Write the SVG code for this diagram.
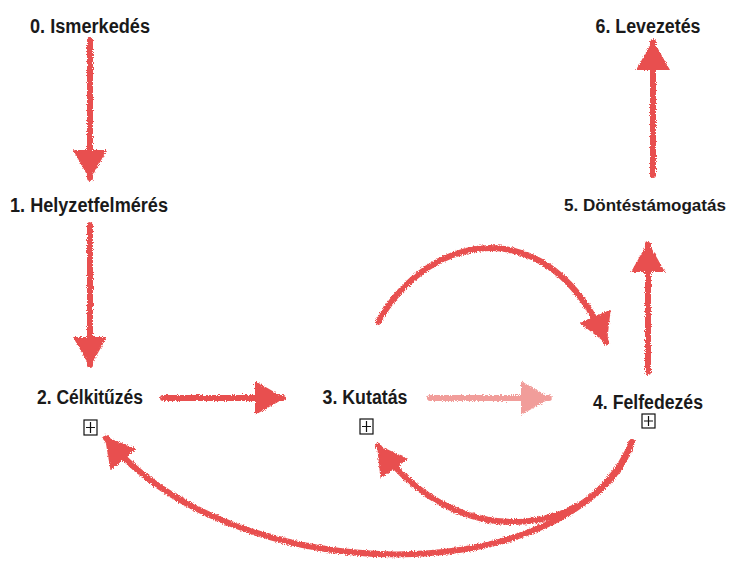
<svg xmlns="http://www.w3.org/2000/svg" width="735" height="561" viewBox="0 0 735 561">
<style>
.lbl{font-family:"Liberation Sans",Arial,sans-serif;font-weight:bold;font-size:20px;fill:#1a1a1a;text-anchor:middle}
.box{fill:#fff;stroke:#111;stroke-width:1.2}
.plus{stroke:#111;stroke-width:1.2}
.c{fill:none;stroke:#e8504f;stroke-width:6;stroke-linecap:round}
.c.light{stroke:#f19d9a}
</style>
<defs>
<filter id="rough" x="-10%" y="-10%" width="120%" height="120%">
<feTurbulence type="fractalNoise" baseFrequency="0.9" numOctaves="2" seed="3" result="n"/>
<feDisplacementMap in="SourceGraphic" in2="n" scale="4" xChannelSelector="R" yChannelSelector="G"/>
</filter>
<marker id="ah" viewBox="0 0 30 34" refX="28" refY="17" markerWidth="30" markerHeight="34" markerUnits="userSpaceOnUse" orient="auto">
<path d="M0,0 L30,17 L0,34 Z" fill="#e8504f"/>
</marker>
<marker id="ahl" viewBox="0 0 30 34" refX="28" refY="17" markerWidth="30" markerHeight="34" markerUnits="userSpaceOnUse" orient="auto">
<path d="M0,0 L30,17 L0,34 Z" fill="#f19d9a"/>
</marker>
</defs>
<g id="connectors" filter="url(#rough)">
<path class="c" d="M90,40 L90,178" marker-end="url(#ah)"/>
<path class="c" d="M90,225 L90,365" marker-end="url(#ah)"/>
<path class="c" d="M163,398 L283,398" marker-end="url(#ah)"/>
<path class="c light" d="M430,398 L549,398" marker-end="url(#ahl)"/>
<path class="c" d="M648,372 L648,244" marker-end="url(#ah)"/>
<path class="c" d="M653,175 L653,42" marker-end="url(#ah)"/>
<path class="c" d="M378,322 C430,230 550,210 606,342" marker-end="url(#ah)"/>
<path class="c" d="M632,442 C600,535 460,560 378,446" marker-end="url(#ah)"/>
<path class="c" d="M632,442 C570,595 230,590 106,438" marker-end="url(#ah)"/>
</g>
<g id="n0"><text class="lbl" x="90" y="33" textLength="120" lengthAdjust="spacingAndGlyphs">0. Ismerkedés</text></g>
<g id="n1"><text class="lbl" x="89" y="212" textLength="158" lengthAdjust="spacingAndGlyphs">1. Helyzetfelmérés</text></g>
<g id="n2"><text class="lbl" x="90" y="404" textLength="106" lengthAdjust="spacingAndGlyphs">2. Célkitűzés</text>
<rect class="box" x="84" y="420" width="13" height="15"/><path class="plus" d="M86,427.5 H95 M90.5,422 V433"/></g>
<g id="n3"><text class="lbl" x="365" y="404" textLength="85" lengthAdjust="spacingAndGlyphs">3. Kutatás</text>
<rect class="box" x="360" y="419" width="13" height="15"/><path class="plus" d="M362,426.5 H371 M366.5,421 V432"/></g>
<g id="n4"><text class="lbl" x="648" y="409" textLength="110" lengthAdjust="spacingAndGlyphs">4. Felfedezés</text>
<rect class="box" x="642" y="414" width="13" height="14"/><path class="plus" d="M644,421 H653 M648.5,416 V426"/></g>
<g id="n5"><text class="lbl" x="645" y="211" style="font-size:17px" textLength="162" lengthAdjust="spacingAndGlyphs">5. Döntéstámogatás</text></g>
<g id="n6"><text class="lbl" x="648" y="33" textLength="105" lengthAdjust="spacingAndGlyphs">6. Levezetés</text></g>
</svg>
